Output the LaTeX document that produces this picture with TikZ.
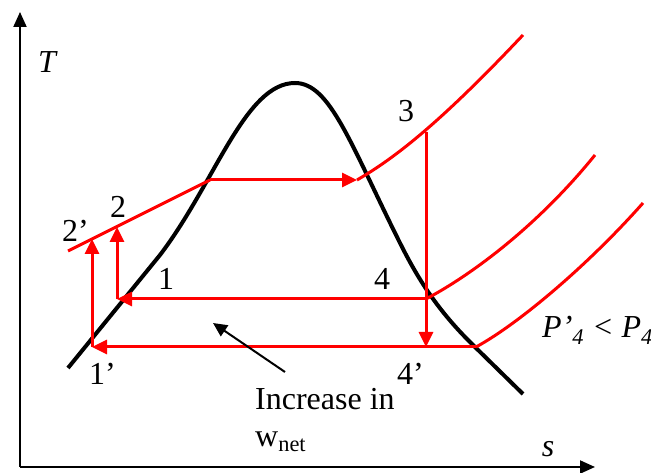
\documentclass[tikz,border=0pt]{standalone}
\usepackage{fontspec}
\setmainfont{Liberation Serif}
\usetikzlibrary{arrows.meta}
\begin{document}
\begin{tikzpicture}[x=1pt,y=1pt,
	redline/.style={red, line width=3pt},
	redarrow/.style={red, line width=3pt, -{Triangle[length=15pt,width=14pt]}},
	lbl/.style={inner sep=0pt, font=\fontsize{32}{34}\selectfont}]
		\useasboundingbox (0,0) rectangle (651,473);
		% Axes
		\coordinate (o) at (20,6);
		\coordinate (ttop) at (20,461);
		\coordinate (sright) at (595,6);
		\draw[line width=2pt, -{Triangle[length=15pt,width=13pt]}] (o) -- (ttop);
		\draw[line width=2pt, -{Triangle[length=15pt,width=13pt]}] (o) -- (sright);
		\node[lbl, anchor=base] (tlab) at (48,400) {\textit{T}};
		\node[lbl, anchor=base] (slab) at (548,16) {\textit{s}};
		
		% Dome
		\draw[line width=4pt, line join=round] (68,105) -- (160,218) .. controls (215,290) and (245,390) .. (295,390)
			.. controls (330,390) and (350,330) .. (400,230)
			.. controls (420,190) and (440,160) .. (475,126) -- (523,79);
		
		% State points
		\coordinate (p1) at (117,174);
		\coordinate (p1b) at (92,126);
		\coordinate (p2) at (117,246);
		\coordinate (p2b) at (92,234);
		\coordinate (pl) at (68,222);
		\coordinate (pf) at (210,293);
		\coordinate (pg) at (357,293);
		\coordinate (p3) at (426,341);
		\coordinate (p4) at (426,174);
		\coordinate (p4b) at (426,126);
		\coordinate (p4r) at (476,126);
		
		% Cycle
		\draw[redline] (pl) -- (pf);
		\draw[redarrow] (pf) -- (pg);
		\draw[redline] (pg) .. controls (395,315) and (440,350) .. (523,438);
		\draw[redarrow] (p3) -- (p4b);
		\draw[redarrow] (p4) -- (p1);
		\draw[redarrow] (p4r) -- (p1b);
		\draw[redarrow] (p1) -- (p2);
		\draw[redarrow] (p1b) -- (p2b);
		\draw[redline] (p4) .. controls (475,200) and (540,250) .. (595,318);
		\draw[redline] (p4r) .. controls (520,150) and (590,210) .. (643,270);
		
		% Labels
		\node[lbl, anchor=base] (l3) at (406,351) {3};
		\node[lbl, anchor=base] (l2) at (118,255) {2};
		\node[lbl, anchor=base west] (l2b) at (62,231) {2’};
		\node[lbl, anchor=base] (l1) at (166,183) {1};
		\node[lbl, anchor=base west] (l1b) at (89,88) {1’};
		\node[lbl, anchor=base] (l4) at (382,183) {4};
		\node[lbl, anchor=base west] (l4b) at (397,88) {4’};
		\node[lbl, anchor=base west] (plab) at (542,135) {\textit{P’\textsubscript{4} < P\textsubscript{4}}};
		\node[lbl, anchor=base west] (inc) at (255,63) {Increase in};
		\node[lbl, anchor=base west] (wnet) at (255,26) {w\textsubscript{net}};
		
		% Work arrow
		\coordinate (wtail) at (285,101);
		\coordinate (whead) at (213,150);
		\draw[line width=2pt, -{Triangle[length=14pt,width=13pt]}] (wtail) -- (whead);
	\end{tikzpicture}
\end{document}
